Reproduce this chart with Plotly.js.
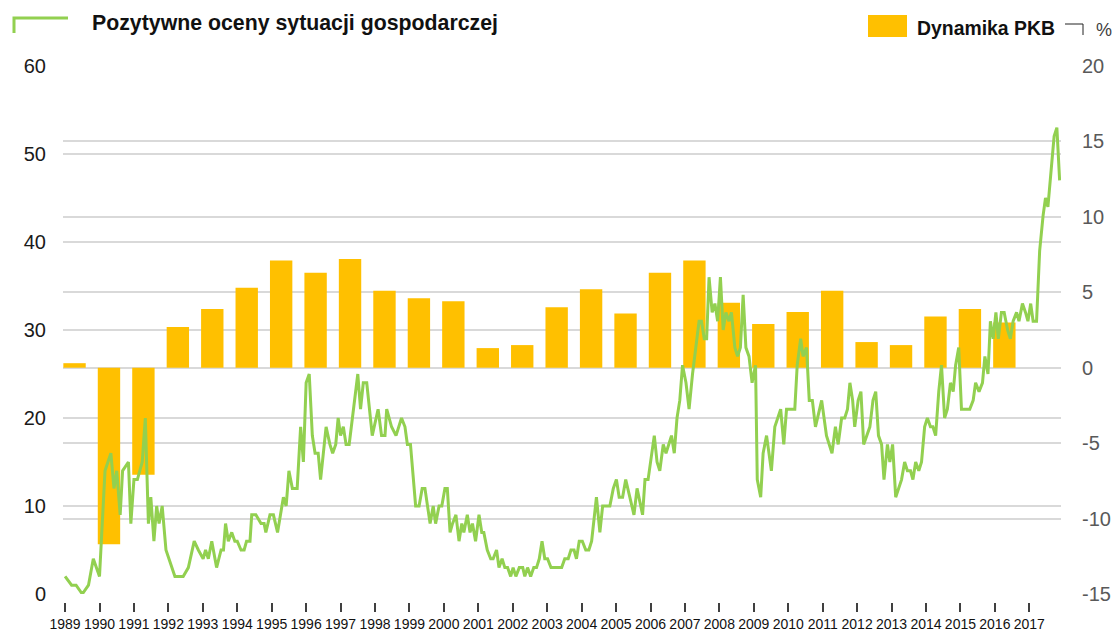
<!DOCTYPE html>
<html><head><meta charset="utf-8">
<script src="https://cdn.plot.ly/plotly-3.0.1.min.js"></script>
<style>html,body{margin:0;padding:0;background:#fff}#chart{width:1117px;height:634px}</style>
</head><body><div id="chart"></div>
<script>
// ---- DATA ----
const lineYears = [1989.00,1989.19,1989.32,1989.50,1989.68,1989.82,
1990.00,1990.16,1990.33,1990.42,1990.50,1990.60,1990.67,1990.84,1990.91,
1991.00,1991.10,1991.24,1991.33,1991.42,1991.49,1991.58,1991.66,1991.73,1991.82,1991.93,
1992.19,1992.43,1992.58,1992.75,1992.87,
1993.01,1993.08,1993.16,1993.26,1993.40,1993.53,1993.60,1993.66,1993.74,1993.84,1993.93,
1994.00,1994.11,1994.20,1994.27,1994.37,1994.42,1994.54,1994.69,1994.78,1994.83,1994.95,
1995.05,1995.17,1995.34,1995.42,1995.50,1995.60,1995.74,1995.84,1995.92,
1996.00,1996.09,1996.18,1996.26,1996.35,1996.42,1996.58,1996.69,1996.77,1996.86,1996.93,
1997.00,1997.08,1997.16,1997.25,1997.37,1997.50,1997.58,1997.66,1997.76,1997.92,
1998.09,1998.19,1998.29,1998.34,1998.48,1998.61,1998.77,1998.87,1998.94,
1999.03,1999.18,1999.28,1999.37,1999.45,1999.60,1999.69,1999.76,1999.86,1999.94,
2000.03,2000.10,2000.18,2000.25,2000.35,2000.44,2000.52,2000.58,2000.68,2000.76,2000.83,2000.92,
2001.02,2001.10,2001.16,2001.26,2001.36,2001.43,2001.53,2001.60,2001.69,2001.77,2001.85,2001.94,
2002.01,2002.09,2002.19,2002.29,2002.35,2002.43,2002.52,2002.61,2002.69,2002.77,2002.85,2002.93,
2003.01,2003.11,2003.42,2003.51,2003.61,2003.69,2003.78,2003.85,2003.93,
2004.02,2004.12,2004.21,2004.29,2004.43,2004.53,2004.61,2004.82,2004.92,
2005.01,2005.09,2005.19,2005.28,2005.40,2005.52,2005.61,2005.77,2005.84,2005.93,
2006.11,2006.19,2006.27,2006.37,2006.45,2006.54,2006.61,2006.69,2006.77,2006.85,2006.93,
2007.03,2007.12,2007.22,2007.32,2007.41,2007.48,2007.56,2007.63,2007.70,2007.79,2007.87,2007.95,
2008.03,2008.11,2008.19,2008.28,2008.35,2008.45,2008.53,2008.61,2008.69,2008.77,2008.86,2008.95,
2009.05,2009.10,2009.20,2009.27,2009.37,2009.51,2009.61,2009.78,2009.87,2009.95,
2010.19,2010.26,2010.36,2010.43,2010.53,2010.61,2010.70,2010.79,2010.97,
2011.11,2011.27,2011.37,2011.45,2011.55,2011.64,2011.72,2011.79,2011.87,2011.93,
2012.03,2012.11,2012.19,2012.37,2012.46,2012.54,2012.62,2012.71,2012.78,2012.88,2012.95,
2013.03,2013.12,2013.29,2013.38,2013.46,2013.55,2013.62,2013.70,2013.79,2013.87,2013.96,
2014.04,2014.13,2014.20,2014.28,2014.37,2014.45,2014.54,2014.62,2014.71,2014.79,2014.86,2014.95,
2015.03,2015.27,2015.37,2015.44,2015.54,2015.64,2015.71,2015.80,2015.87,2015.95,
2016.03,2016.10,2016.19,2016.27,2016.37,2016.45,2016.53,2016.63,2016.70,2016.80,2016.89,2016.96,
2017.04,2017.11,2017.21,2017.30,2017.40,2017.47,2017.54,2017.64,2017.72,2017.80,2017.88];

const lineValues = [2,1,1,0,1,4,
2,14,16,12,14,9,14,15,8,
13,13,15,20,8,11,6,10,8,10,5,
2,2,3,6,5,
4,5,4,6,3,5,5,8,6,7,6,
6,5,5,6,6,9,9,8,8,7,9,
9,7,11,10,14,12,12,19,15,
24,25,18,16,16,13,19,17,16,17,20,
18,19,17,17,21,25,21,24,24,18,
21,18,18,21,19,18,20,19,17,
17,10,10,12,12,8,10,8,10,10,
12,12,7,8,9,6,8,7,9,7,8,6,
9,7,7,5,4,4,5,3,4,3,3,2,
3,2,3,3,2,3,2,3,3,4,6,4,
4,3,3,4,4,5,5,4,6,
6,5,5,6,11,7,10,10,12,
13,11,11,13,11,9,12,9,13,13,
18,15,14,17,16,17,18,16,20,22,26,
24,21,25,28,31,31,29,29,36,32,33,31,
36,30,32,31,32,28,27,28,34,28,27,24,
26,13,11,16,18,14,19,21,17,21,
21,26,29,27,28,22,22,19,22,
18,16,19,17,20,20,21,24,22,19,
22,23,17,19,22,23,18,17,13,17,15,
17,11,13,15,14,14,13,15,14,15,19,
20,19,19,18,23,26,20,21,24,23,26,28,
21,21,22,24,23,24,27,25,31,29,
32,29,32,32,30,29,31,32,31,33,32,31,
33,31,31,39,43,45,44,49,52,53,47];

const gdpYears = [1989,1990,1991,1992,1993,1994,1995,1996,1997,1998,1999,2000,2001,2002,
                  2003,2004,2005,2006,2007,2008,2009,2010,2011,2012,2013,2014,2015,2016];
const gdpValues = [0.3,-11.7,-7.1,2.7,3.9,5.3,7.1,6.3,7.2,5.1,4.6,4.4,1.3,1.5,
                   4.0,5.2,3.6,6.3,7.1,4.3,2.9,3.7,5.1,1.7,1.5,3.4,3.9,3.0];

const xTickYears = [1989,1990,1991,1992,1993,1994,1995,1996,1997,1998,1999,2000,2001,2002,2003,
                    2004,2005,2006,2007,2008,2009,2010,2011,2012,2013,2014,2015,2016,2017];
const xTickLabels = xTickYears.map(String);
const leftTickVals = [0,10,20,30,40,50,60];
const leftTickLabels = ['0','10','20','30','40','50','60'];
const rightTickVals = [-15,-10,-5,0,5,10,15,20];
const rightTickLabels = ['-15','-10','-5','0','5','10','15','20'];

const lineName = 'Pozytywne oceny sytuacji gospodarczej';
const barName = 'Dynamika PKB';
const unitLabel = '%';

// ---- LAYOUT HELPERS ----
const W = 1117, H = 634, L = 63, R = 56, T = 66, B = 32;
const pw = W - L - R, ph = H - T - B;
const px = x => (x - L) / pw;
const py = y => (H - B - y) / ph;
const FONT = 'Liberation Sans, Arial, sans-serif';
const GREEN = '#92d050', GOLD = '#ffc000', GRID = '#d9d9d9';

const traces = [
  {type: 'bar', x: gdpYears, y: gdpValues, xaxis: 'x', yaxis: 'y',
   width: 0.65, offset: -0.05, marker: {color: GOLD, line: {width: 0}}, name: barName},
  {type: 'scatter', mode: 'lines', x: lineYears, y: lineValues, xaxis: 'x', yaxis: 'y2',
   line: {color: GREEN, width: 3}, name: lineName}
];

const layout = {
  width: W, height: H,
  margin: {l: L, r: R, t: T, b: B, pad: 0},
  paper_bgcolor: '#ffffff', plot_bgcolor: 'rgba(0,0,0,0)',
  showlegend: false,
  font: {family: FONT, color: '#1a1a1a'},
  xaxis: {range: [1988.94, 2017.92], anchor: 'free', position: 0,
          tickmode: 'array', tickvals: xTickYears, ticktext: xTickLabels,
          ticks: 'outside', ticklen: 9, tickwidth: 2, tickcolor: '#404040',
          showgrid: false, zeroline: false, showline: false,
          tickfont: {size: 14, color: '#111111', family: FONT}},
  yaxis: {domain: [py(594), 1], side: 'right', range: [-15, 20],
          tickmode: 'array', tickvals: rightTickVals, ticktext: rightTickLabels,
          showgrid: true, gridcolor: GRID, gridwidth: 2, zeroline: false, showline: false,
          ticks: 'outside', ticklen: 16, tickcolor: 'rgba(0,0,0,0)',
          tickfont: {size: 20, color: '#595959', family: FONT}},
  yaxis2: {overlaying: 'y', side: 'left', range: [0, 60],
          tickmode: 'array', tickvals: leftTickVals, ticktext: leftTickLabels,
          showgrid: true, gridcolor: GRID, gridwidth: 2, zeroline: false, showline: false,
          ticks: 'outside', ticklen: 12, tickcolor: 'rgba(0,0,0,0)',
          tickfont: {size: 20, color: '#1a1a1a', family: FONT}},
  shapes: [
    {type: 'path', xref: 'paper', yref: 'paper',
     path: `M ${px(68)},${py(18)} L ${px(14)},${py(18)} L ${px(14)},${py(33)}`,
     line: {color: GREEN, width: 3}},
    {type: 'rect', xref: 'paper', yref: 'paper',
     x0: px(868), x1: px(907), y0: py(37), y1: py(15),
     fillcolor: GOLD, line: {width: 0}},
    {type: 'path', xref: 'paper', yref: 'paper',
     path: `M ${px(1065)},${py(24)} L ${px(1083)},${py(24)} L ${px(1083)},${py(35)}`,
     line: {color: '#222222', width: 1}}
  ],
  annotations: [
    {xref: 'paper', yref: 'paper', x: px(90), y: py(23), xanchor: 'left', yanchor: 'middle',
     text: '<b>' + lineName + '</b>', showarrow: false,
     font: {size: 21.3, color: '#111111', family: FONT}},
    {xref: 'paper', yref: 'paper', x: px(915), y: py(28), xanchor: 'left', yanchor: 'middle',
     text: '<b>' + barName + '</b>', showarrow: false,
     font: {size: 19.4, color: '#111111', family: FONT}},
    {xref: 'paper', yref: 'paper', x: px(1094), y: py(30), xanchor: 'left', yanchor: 'middle',
     text: unitLabel, showarrow: false,
     font: {size: 18, color: '#404040', family: FONT}}
  ]
};

Plotly.newPlot('chart', traces, layout, {staticPlot: true, displayModeBar: false});
</script></body></html>
